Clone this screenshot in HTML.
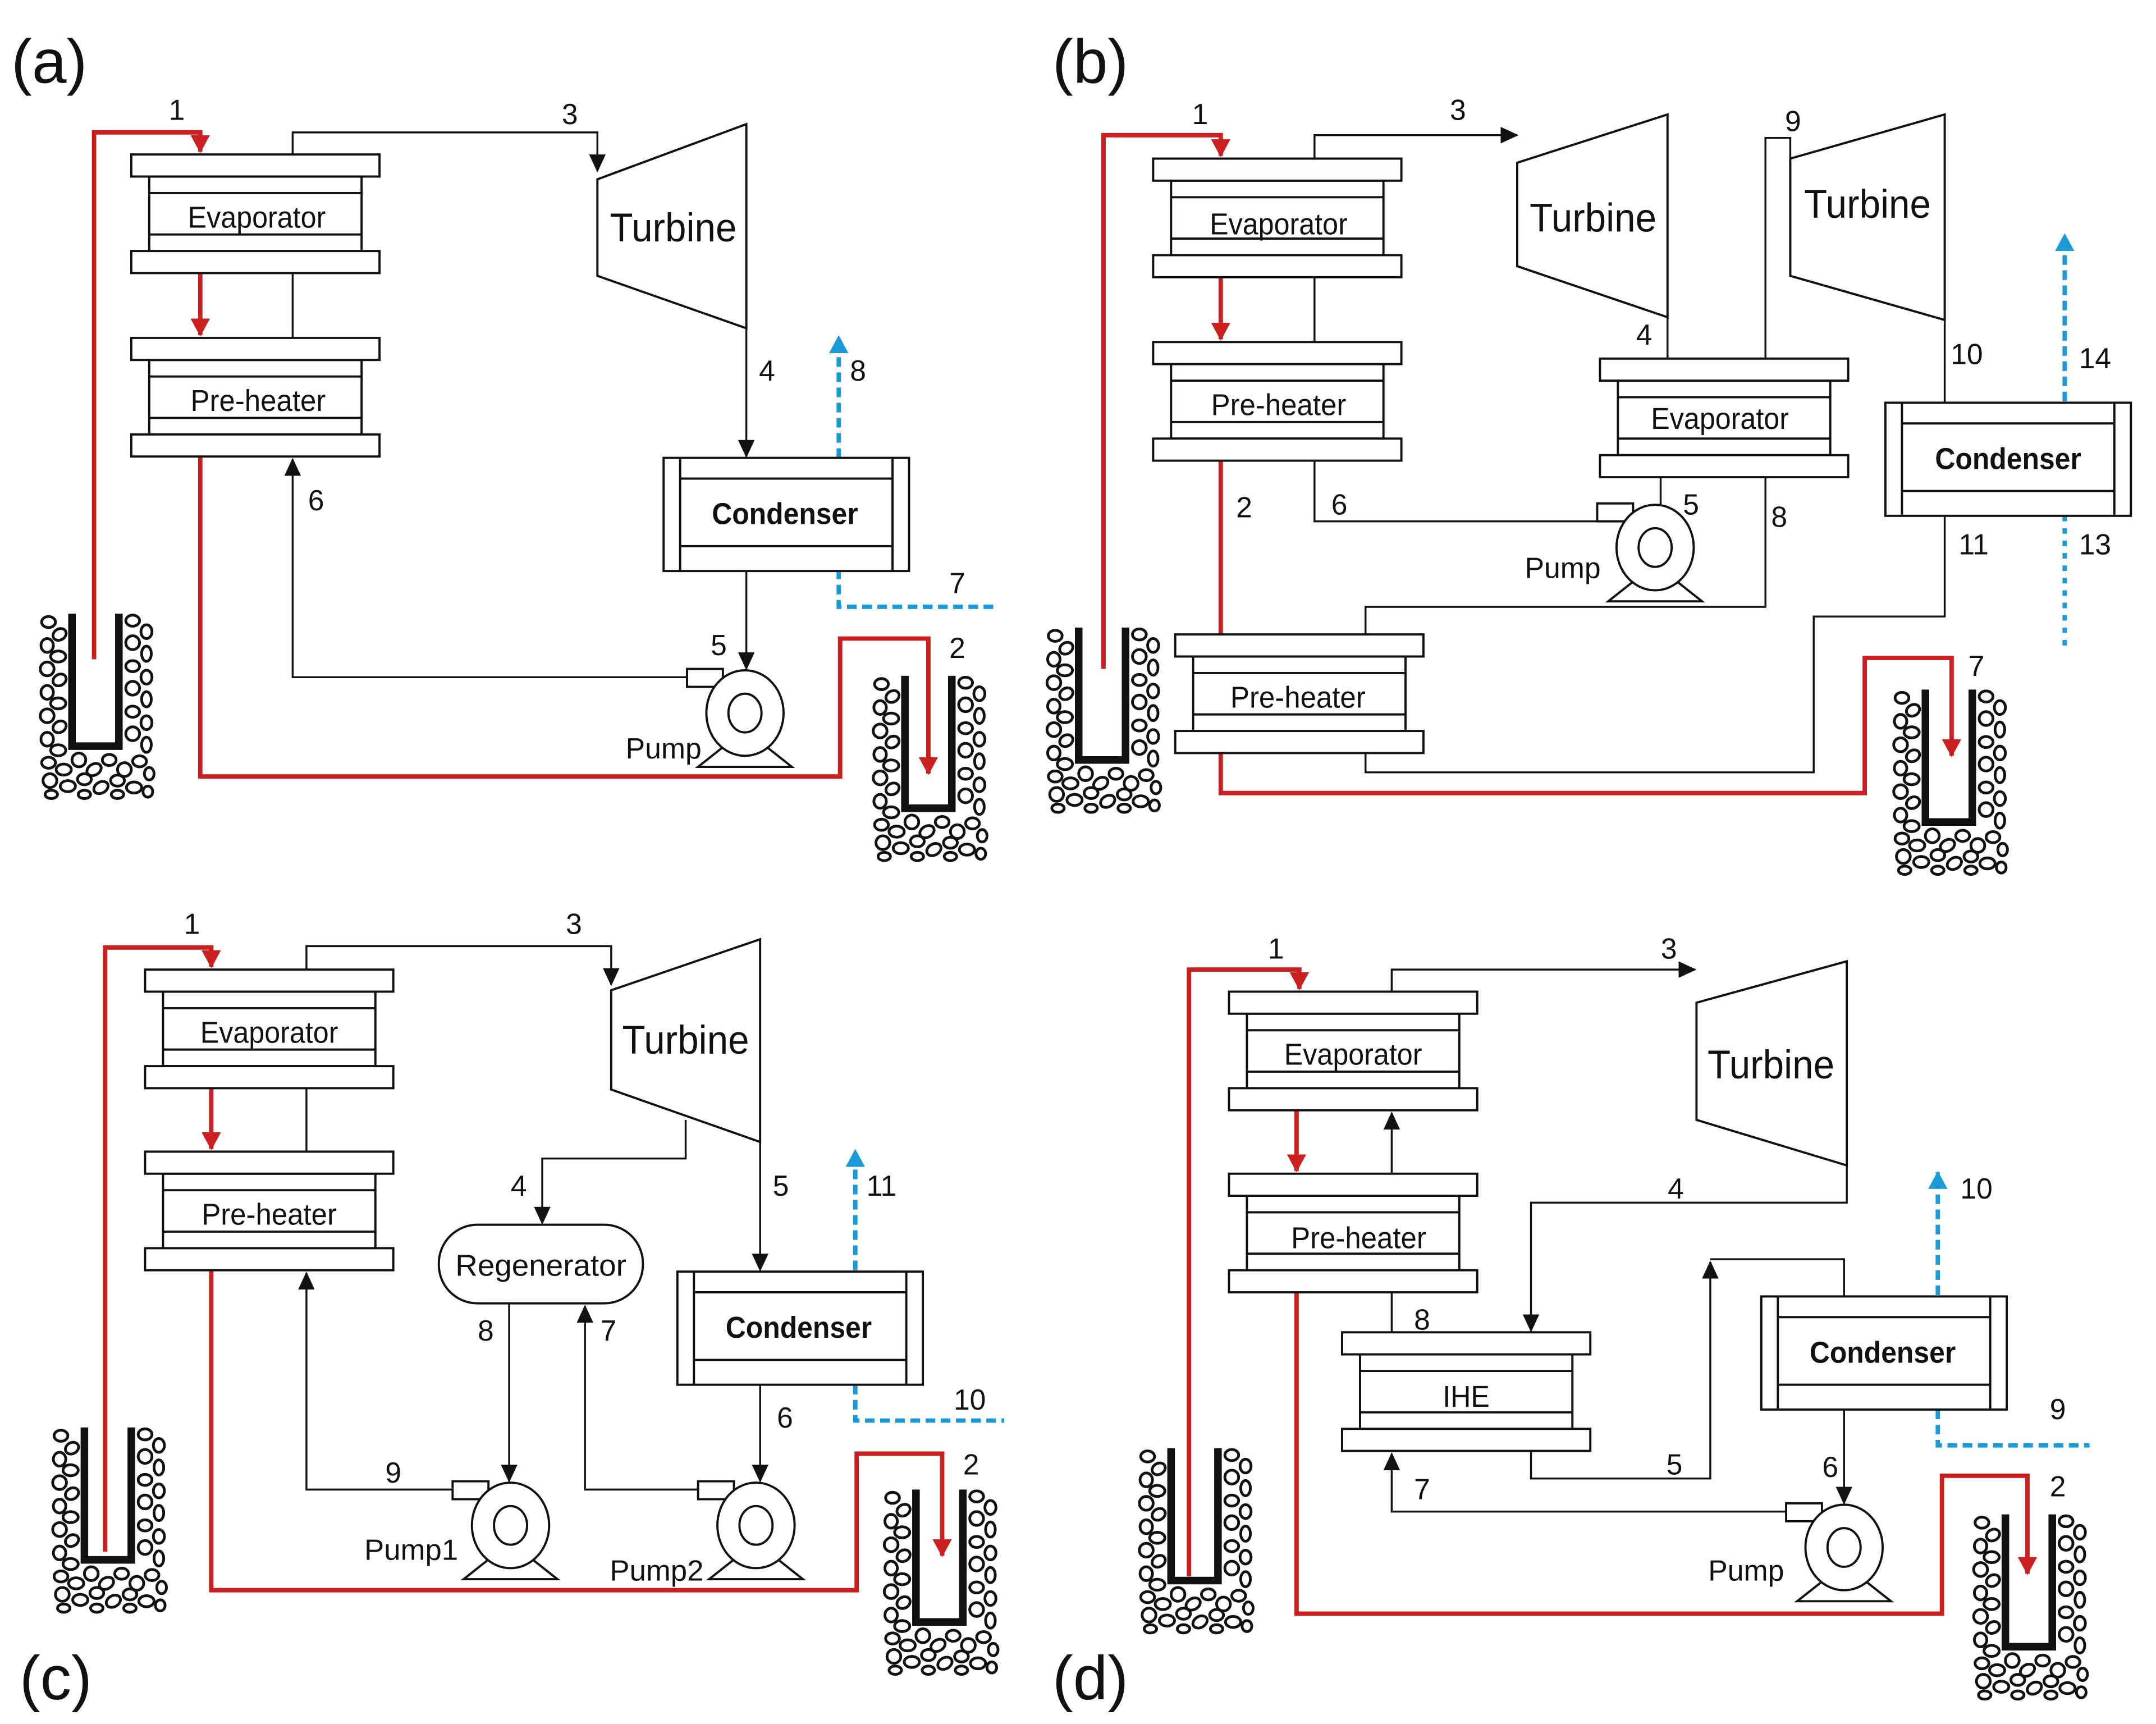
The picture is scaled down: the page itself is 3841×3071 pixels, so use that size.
<!DOCTYPE html>
<html><head><meta charset="utf-8">
<style>
html,body{margin:0;padding:0;background:#fff;}
svg{display:block;}
text{font-family:"Liberation Sans",Arial,sans-serif;fill:#111;}
.n{font-size:21px;text-anchor:middle;}
.c{text-anchor:middle;font-size:22px;}
.b{text-anchor:middle;font-size:22px;font-weight:bold;}
.t{text-anchor:middle;font-size:29px;}
.p{font-size:45px;}
.k{fill:none;stroke:#111;stroke-width:1.4;}
.r{fill:none;stroke:#cc1f1f;stroke-width:3.2;}
.bl{fill:none;stroke:#1a9ad6;stroke-width:3.2;stroke-dasharray:7,4;}
</style></head>
<body>
<svg width="3841" height="3071" viewBox="0 0 1563 1250" xmlns="http://www.w3.org/2000/svg">
<defs>
<marker id="ak" markerUnits="userSpaceOnUse" markerWidth="14" markerHeight="12" refX="12" refY="6" orient="auto"><path d="M0,0 L13,6 L0,12 z" fill="#111"/></marker>
<marker id="ar" markerUnits="userSpaceOnUse" markerWidth="14" markerHeight="14" refX="12" refY="7" orient="auto"><path d="M0,0 L13,7 L0,14 z" fill="#cc1f1f"/></marker>
<marker id="ab" markerUnits="userSpaceOnUse" markerWidth="14" markerHeight="14" refX="12" refY="7" orient="auto"><path d="M0,0 L13,7 L0,14 z" fill="#1a9ad6"/></marker>
<g id="hx" fill="#fff" stroke="#111" stroke-width="1.6">
<rect x="13" y="16" width="154" height="54"/>
<line x1="13" y1="28" x2="167" y2="28"/><line x1="13" y1="58" x2="167" y2="58"/>
<rect x="0" y="0" width="180" height="16"/>
<rect x="0" y="70" width="180" height="16"/>
</g>
<g id="cd" fill="#fff" stroke="#111" stroke-width="1.6">
<rect x="0" y="0" width="178" height="82"/>
<line x1="12" y1="0" x2="12" y2="82"/><line x1="166" y1="0" x2="166" y2="82"/>
<line x1="12" y1="15" x2="166" y2="15"/><line x1="12" y1="64" x2="166" y2="64"/>
</g>
<g id="pm" fill="#fff" stroke="#111" stroke-width="1.6">
<path d="M-10,20 L-34,39 H34 L10,20 z"/>
<rect x="-42" y="-32" width="26" height="13"/>
<ellipse cx="0" cy="0" rx="28" ry="31"/>
<ellipse cx="0" cy="0" rx="12" ry="14"/>
</g>
<g id="wl">
<g fill="none" stroke="#111" stroke-width="2">
<ellipse cx="7" cy="6" rx="5" ry="4"/><ellipse cx="15" cy="15" rx="5" ry="4" transform="rotate(-30 15 15)"/>
<ellipse cx="6" cy="23" rx="4.5" ry="5"/><ellipse cx="14" cy="31" rx="5.5" ry="4"/>
<ellipse cx="6" cy="40" rx="5" ry="5"/><ellipse cx="15" cy="48" rx="5" ry="4" transform="rotate(-30 15 48)"/>
<ellipse cx="6" cy="57" rx="4.5" ry="5"/><ellipse cx="14" cy="65" rx="5.5" ry="4"/>
<ellipse cx="6" cy="74" rx="5" ry="5"/><ellipse cx="15" cy="82" rx="5" ry="4" transform="rotate(-30 15 82)"/>
<ellipse cx="6" cy="91" rx="4.5" ry="5"/><ellipse cx="14" cy="99" rx="5.5" ry="4"/>
<ellipse cx="68" cy="5" rx="5" ry="4"/><ellipse cx="78" cy="13" rx="4" ry="5"/>
<ellipse cx="68" cy="21" rx="5" ry="5"/><ellipse cx="78" cy="29" rx="3.5" ry="5.5"/>
<ellipse cx="68" cy="38" rx="5" ry="4"/><ellipse cx="78" cy="46" rx="4" ry="5"/>
<ellipse cx="68" cy="54" rx="5" ry="5"/><ellipse cx="78" cy="62" rx="3.5" ry="5.5"/>
<ellipse cx="68" cy="71" rx="5" ry="4"/><ellipse cx="78" cy="79" rx="4" ry="5"/>
<ellipse cx="68" cy="87" rx="5" ry="5"/><ellipse cx="78" cy="95" rx="3.5" ry="5.5"/>
<ellipse cx="7" cy="108" rx="5" ry="4"/><ellipse cx="18" cy="113" rx="5.5" ry="4"/>
<ellipse cx="29" cy="106" rx="5" ry="5"/><ellipse cx="40" cy="113" rx="5.5" ry="4" transform="rotate(-30 40 113)"/>
<ellipse cx="51" cy="106" rx="5" ry="4"/><ellipse cx="62" cy="113" rx="5" ry="5"/>
<ellipse cx="73" cy="107" rx="5" ry="4"/><ellipse cx="80" cy="116" rx="3.5" ry="4.5"/>
<ellipse cx="8" cy="121" rx="5" ry="5"/><ellipse cx="21" cy="125" rx="5.5" ry="4"/>
<ellipse cx="33" cy="120" rx="5" ry="4"/><ellipse cx="45" cy="126" rx="5.5" ry="4" transform="rotate(-30 45 126)"/>
<ellipse cx="57" cy="121" rx="5" ry="4"/><ellipse cx="69" cy="126" rx="5.5" ry="4"/>
<ellipse cx="79" cy="129" rx="3.5" ry="4"/><ellipse cx="9" cy="131" rx="4.5" ry="3"/>
<ellipse cx="33" cy="131" rx="4.5" ry="3"/><ellipse cx="57" cy="131" rx="4.5" ry="3"/>
</g>
<path d="M24,0 V96 H58 V0" fill="none" stroke="#111" stroke-width="5.5"/>
</g>
</defs>
<rect width="1563" height="1250" fill="#fff"/>

<!-- ================= (a) ================= -->
<text class="p" x="8" y="60">(a)</text>
<use href="#wl" x="28" y="445"/><use href="#wl" x="632" y="490"/>
<path class="r" d="M68,478 V96 H145 V110" marker-end="url(#ar)"/>
<path class="r" d="M145,198 V243" marker-end="url(#ar)"/>
<path class="r" d="M145,331 V563 H609 V463 H673 V561" marker-end="url(#ar)"/>
<path class="k" d="M212,112 V96 H433 V124" marker-end="url(#ak)"/>
<path class="k" d="M212,198 V245"/>
<path class="k" d="M541,238 V331" marker-end="url(#ak)"/>
<path class="k" d="M541,413 V485" marker-end="url(#ak)"/>
<path class="k" d="M498,491 H212 V333" marker-end="url(#ak)"/>
<path class="bl" d="M608,332 V244" marker-end="url(#ab)"/>
<path class="bl" d="M608,413 V440 H720"/>
<use href="#hx" x="95" y="112"/><use href="#hx" x="95" y="245"/>
<text class="c" x="186" y="165" textLength="100" lengthAdjust="spacingAndGlyphs">Evaporator</text>
<text class="c" x="187" y="298" textLength="98" lengthAdjust="spacingAndGlyphs">Pre-heater</text>
<polygon points="433,130 541,90 541,238 433,200" fill="#fff" stroke="#111" stroke-width="1.6"/>
<text class="t" x="488" y="175" textLength="92" lengthAdjust="spacingAndGlyphs">Turbine</text>
<use href="#cd" x="481" y="332"/>
<text class="b" x="569" y="380" textLength="106" lengthAdjust="spacingAndGlyphs">Condenser</text>
<use href="#pm" x="540" y="517"/>
<text class="c" x="481" y="550" style="font-size:21px" textLength="55" lengthAdjust="spacingAndGlyphs">Pump</text>
<text class="n" x="128" y="87">1</text><text class="n" x="694" y="477">2</text>
<text class="n" x="413" y="90">3</text><text class="n" x="556" y="276">4</text>
<text class="n" x="521" y="475">5</text><text class="n" x="229" y="370">6</text>
<text class="n" x="694" y="430">7</text><text class="n" x="622" y="276">8</text>

<!-- ================= (b) ================= -->
<text class="p" x="763" y="60">(b)</text>
<use href="#wl" x="758" y="455"/><use href="#wl" x="1372" y="500"/>
<path class="r" d="M800,485 V98 H885 V113" marker-end="url(#ar)"/>
<path class="r" d="M885,201 V246" marker-end="url(#ar)"/>
<path class="r" d="M885,334 V460"/>
<path class="r" d="M885,546 V575 H1352 V477 H1415 V548" marker-end="url(#ar)"/>
<path class="k" d="M953,201 V248"/>
<path class="k" d="M953,115 V98 H1100" marker-end="url(#ak)"/>
<path class="k" d="M1209,230 V260"/>
<path class="k" d="M1280,260 V100 H1298 V200"/>
<path class="k" d="M1410,232 V292"/>
<path class="k" d="M1410,374 V447 H1315 V560 H990 V546"/>
<path class="k" d="M1280,346 V440 H990 V460"/>
<path class="k" d="M1204,346 V366"/>
<path class="k" d="M1158,378 H953 V334"/>
<path class="bl" d="M1497,291 V170" marker-end="url(#ab)"/>
<path class="bl" d="M1497,374 V472" style="stroke-dasharray:4,5"/>
<use href="#hx" x="836" y="115"/><use href="#hx" x="836" y="248"/>
<use href="#hx" x="1160" y="260"/><use href="#hx" x="852" y="460"/>
<text class="c" x="927" y="170" textLength="100" lengthAdjust="spacingAndGlyphs">Evaporator</text>
<text class="c" x="927" y="301" textLength="98" lengthAdjust="spacingAndGlyphs">Pre-heater</text>
<text class="c" x="1247" y="311" textLength="100" lengthAdjust="spacingAndGlyphs">Evaporator</text>
<text class="c" x="941" y="513" textLength="98" lengthAdjust="spacingAndGlyphs">Pre-heater</text>
<polygon points="1100,118 1209,83 1209,230 1100,193" fill="#fff" stroke="#111" stroke-width="1.6"/>
<text class="t" x="1155" y="168" textLength="92" lengthAdjust="spacingAndGlyphs">Turbine</text>
<polygon points="1298,115 1410,83 1410,232 1298,200" fill="none" stroke="#111" stroke-width="1.6"/>
<text class="t" x="1354" y="158" textLength="92" lengthAdjust="spacingAndGlyphs">Turbine</text>
<use href="#cd" x="1367" y="292"/>
<text class="b" x="1456" y="340" textLength="106" lengthAdjust="spacingAndGlyphs">Condenser</text>
<use href="#pm" x="1200" y="397"/>
<text class="c" x="1133" y="419" style="font-size:21px" textLength="55" lengthAdjust="spacingAndGlyphs">Pump</text>
<text class="n" x="870" y="90">1</text><text class="n" x="902" y="375">2</text>
<text class="n" x="1057" y="87">3</text><text class="n" x="1192" y="250">4</text>
<text class="n" x="1226" y="373">5</text><text class="n" x="971" y="373">6</text>
<text class="n" x="1433" y="490">7</text><text class="n" x="1290" y="382">8</text>
<text class="n" x="1300" y="95">9</text><text class="n" x="1426" y="264">10</text>
<text class="n" x="1431" y="402">11</text><text class="n" x="1519" y="402">13</text>
<text class="n" x="1519" y="267">14</text>

<!-- ================= (c) ================= -->
<text class="p" x="14" y="1232">(c)</text>
<use href="#wl" x="37" y="1035"/><use href="#wl" x="640" y="1080"/>
<path class="r" d="M76,1125 V687 H153 V701" marker-end="url(#ar)"/>
<path class="r" d="M153,788 V833" marker-end="url(#ar)"/>
<path class="r" d="M153,921 V1153 H621 V1054 H683 V1128" marker-end="url(#ar)"/>
<path class="k" d="M222,703 V686 H443 V714" marker-end="url(#ak)"/>
<path class="k" d="M222,788 V835"/>
<path class="k" d="M497,812 V840 H393 V887" marker-end="url(#ak)"/>
<path class="k" d="M551,828 V921" marker-end="url(#ak)"/>
<path class="k" d="M551,1004 V1074" marker-end="url(#ak)"/>
<path class="k" d="M369,945 V1074" marker-end="url(#ak)"/>
<path class="k" d="M506,1080 H424 V947" marker-end="url(#ak)"/>
<path class="k" d="M328,1080 H222 V923" marker-end="url(#ak)"/>
<path class="bl" d="M620,921 V834" marker-end="url(#ab)"/>
<path class="bl" d="M620,1004 V1030 H728"/>
<use href="#hx" x="105" y="703"/><use href="#hx" x="105" y="835"/>
<text class="c" x="195" y="756" textLength="100" lengthAdjust="spacingAndGlyphs">Evaporator</text>
<text class="c" x="195" y="888" textLength="98" lengthAdjust="spacingAndGlyphs">Pre-heater</text>
<polygon points="443,718 551,681 551,828 443,790" fill="#fff" stroke="#111" stroke-width="1.6"/>
<text class="t" x="497" y="764" textLength="92" lengthAdjust="spacingAndGlyphs">Turbine</text>
<rect x="318" y="888" width="148" height="57" rx="28" fill="#fff" stroke="#111" stroke-width="1.6"/>
<text class="c" x="392" y="925" textLength="124" lengthAdjust="spacingAndGlyphs">Regenerator</text>
<use href="#cd" x="491" y="922"/>
<text class="b" x="579" y="970" textLength="106" lengthAdjust="spacingAndGlyphs">Condenser</text>
<use href="#pm" x="370" y="1106"/><use href="#pm" x="548" y="1106"/>
<text class="c" x="298" y="1131" style="font-size:21px" textLength="68" lengthAdjust="spacingAndGlyphs">Pump1</text>
<text class="c" x="476" y="1146" style="font-size:21px" textLength="68" lengthAdjust="spacingAndGlyphs">Pump2</text>
<text class="n" x="139" y="677">1</text><text class="n" x="704" y="1069">2</text>
<text class="n" x="416" y="677">3</text><text class="n" x="376" y="867">4</text>
<text class="n" x="566" y="867">5</text><text class="n" x="569" y="1035">6</text>
<text class="n" x="441" y="972">7</text><text class="n" x="352" y="972">8</text>
<text class="n" x="285" y="1075">9</text><text class="n" x="703" y="1022">10</text>
<text class="n" x="639" y="867">11</text>

<!-- ================= (d) ================= -->
<text class="p" x="763" y="1232">(d)</text>
<use href="#wl" x="825" y="1050"/><use href="#wl" x="1430" y="1098"/>
<path class="r" d="M862,1143 V703 H942 V717" marker-end="url(#ar)"/>
<path class="r" d="M940,805 V849" marker-end="url(#ar)"/>
<path class="r" d="M940,937 V1170 H1408 V1070 H1470 V1141" marker-end="url(#ar)"/>
<path class="k" d="M1009,719 V703 H1229" marker-end="url(#ak)"/>
<path class="k" d="M1009,851 V807" marker-end="url(#ak)"/>
<path class="k" d="M1339,845 V872 H1110 V965" marker-end="url(#ak)"/>
<path class="k" d="M1009,937 V966"/>
<path class="k" d="M1110,1052 V1072 H1240 V915" marker-end="url(#ak)"/>
<path class="k" d="M1240,913 H1337 V940"/>
<path class="k" d="M1337,1022 V1090" marker-end="url(#ak)"/>
<path class="k" d="M1295,1096 H1009 V1054" marker-end="url(#ak)"/>
<path class="bl" d="M1405,939 V850" marker-end="url(#ab)"/>
<path class="bl" d="M1405,1022 V1048 H1515"/>
<use href="#hx" x="891" y="719"/><use href="#hx" x="891" y="851"/>
<use href="#hx" x="973" y="966"/>
<text class="c" x="981" y="772" textLength="100" lengthAdjust="spacingAndGlyphs">Evaporator</text>
<text class="c" x="985" y="905" textLength="98" lengthAdjust="spacingAndGlyphs">Pre-heater</text>
<text class="c" x="1063" y="1020" textLength="34" lengthAdjust="spacingAndGlyphs">IHE</text>
<polygon points="1230,727 1339,697 1339,845 1230,812" fill="#fff" stroke="#111" stroke-width="1.6"/>
<text class="t" x="1284" y="782" textLength="92" lengthAdjust="spacingAndGlyphs">Turbine</text>
<use href="#cd" x="1277" y="940"/>
<text class="b" x="1365" y="988" textLength="106" lengthAdjust="spacingAndGlyphs">Condenser</text>
<use href="#pm" x="1337" y="1122"/>
<text class="c" x="1266" y="1146" style="font-size:21px" textLength="55" lengthAdjust="spacingAndGlyphs">Pump</text>
<text class="n" x="925" y="695">1</text><text class="n" x="1492" y="1085">2</text>
<text class="n" x="1210" y="695">3</text><text class="n" x="1215" y="869">4</text>
<text class="n" x="1214" y="1069">5</text><text class="n" x="1327" y="1071">6</text>
<text class="n" x="1031" y="1087">7</text><text class="n" x="1031" y="964">8</text>
<text class="n" x="1492" y="1029">9</text><text class="n" x="1433" y="869">10</text>
</svg>
</body></html>
